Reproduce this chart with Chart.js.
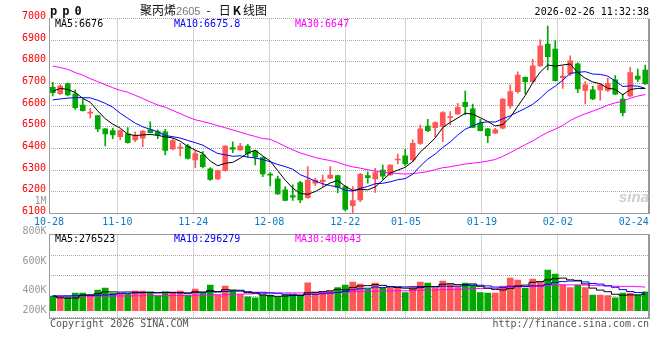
<!DOCTYPE html>
<html>
<head>
<meta charset="utf-8">
<script src="https://cdn.jsdelivr.net/npm/chart.js@4.4.1/dist/chart.umd.min.js"></script>
<style>
body{margin:0;background:#fff}
#wrap{position:relative;width:660px;height:360px;overflow:hidden;background:#fff}
canvas{position:absolute;left:0}
.t{position:absolute;white-space:pre;font:10px "DejaVu Sans Mono",monospace;line-height:12px}
</style>
</head>
<body>
<div id="wrap">
<canvas id="kline" width="660" height="232" style="top:0"></canvas>
<canvas id="vol" width="660" height="100" style="top:226px"></canvas>
</div>
<script>
// date ticks (candle index -> label)
const tickIdx = [0, 9, 19, 29, 39, 47, 57, 67, 77];
const tickLabels = ['10-28', '11-10', '11-24', '12-08', '12-22', '01-05', '01-19', '02-02', '02-24'];

// daily OHLC, 2025-10-28 .. 2026-02-26
const open = [6682,6653,6699,6651,6600,6563,6551,6490,6482,6454,
  6467,6439,6447,6485,6477,6476,6397,6401,6410,6346,
  6370,6305,6259,6297,6403,6393,6411,6388,6357,6279,
  6259,6208,6182,6242,6172,6239,6246,6262,6274,6223,
  6135,6162,6274,6259,6300,6277,6346,6365,6346,6423,
  6503,6496,6503,6542,6559,6613,6582,6516,6490,6470,
  6493,6596,6662,6728,6708,6781,6882,6859,6727,6744,
  6790,6667,6670,6670,6667,6716,6628,6642,6734,6762];
const high = [6705,6694,6701,6670,6628,6585,6553,6491,6494,6485,
  6496,6476,6482,6522,6485,6488,6445,6423,6419,6390,
  6385,6310,6300,6413,6430,6423,6419,6392,6360,6288,
  6272,6223,6231,6248,6316,6262,6277,6316,6277,6228,
  6223,6285,6292,6308,6323,6325,6374,6396,6439,6508,
  6534,6522,6570,6570,6608,6665,6605,6534,6492,6493,
  6630,6693,6754,6730,6811,6901,6965,6898,6780,6827,
  6795,6708,6688,6697,6724,6736,6651,6774,6766,6785];
const low = [6642,6648,6642,6580,6572,6540,6477,6411,6445,6439,
  6424,6431,6408,6470,6445,6370,6393,6365,6350,6311,
  6310,6252,6255,6295,6380,6390,6359,6323,6269,6226,
  6187,6157,6159,6149,6169,6228,6223,6260,6195,6111,
  6100,6154,6239,6197,6257,6275,6328,6320,6340,6418,
  6477,6454,6431,6508,6557,6554,6495,6480,6426,6468,
  6490,6585,6655,6651,6705,6778,6762,6710,6677,6736,
  6657,6605,6625,6623,6663,6648,6550,6638,6708,6695];
const close = [6657,6688,6647,6588,6574,6566,6490,6467,6462,6482,
  6426,6460,6480,6473,6462,6390,6436,6404,6353,6376,
  6315,6257,6297,6411,6396,6411,6377,6359,6282,6276,
  6189,6159,6174,6162,6254,6254,6254,6277,6219,6118,
  6159,6280,6265,6288,6272,6323,6350,6328,6423,6490,
  6482,6519,6565,6545,6590,6593,6497,6482,6459,6485,
  6628,6662,6739,6708,6781,6873,6824,6713,6734,6804,
  6674,6693,6628,6693,6700,6650,6565,6750,6720,6698];

// first points of the MA lines (their windows start before 10-28)
const ma5Head = [6664, 6677, 6672, 6658];
const ma10Head = [6624, 6628, 6632, 6634, 6634, 6633, 6622, 6608, 6590];
const ma30Head = [6780, 6773, 6765, 6750, 6738, 6722, 6708, 6694, 6680, 6668,
  6659, 6645, 6630, 6615, 6600, 6590, 6575, 6560, 6545, 6532,
  6524, 6515, 6505, 6495, 6485, 6475, 6464, 6455, 6445];

// volume
const volume = [244000,244000,228000,294000,294000,261000,344000,377000,289000,278000,
  272000,327000,327000,311000,244000,311000,311000,327000,261000,361000,
  289000,427000,261000,411000,333000,272000,233000,216000,261000,261000,
  228000,261000,261000,261000,466000,289000,311000,327000,383000,427000,
  477000,444000,355000,461000,372000,372000,372000,300000,400000,477000,
  461000,372000,494000,444000,400000,461000,427000,300000,294000,294000,
  411000,544000,511000,372000,527000,472000,677000,611000,427000,383000,
  427000,383000,261000,261000,250000,216000,294000,294000,261000,316000];
const vma5Head = [245000, 215000, 208000, 212000];
const vma10Head = [244000, 246000, 248000, 250000, 252000, 254000, 257000, 262000, 268000];
const vma30Head = [240000,240000,241000,241000,242000,242000,243000,243000,244000,246000,
  248000,249000,250000,251000,251000,252000,253000,254000,256000,258000,
  260000,262000,265000,268000,271000,275000,279000,283000,287000];

const RED = '#ff5656';
const GREEN = '#00a800';
const GRID = '#a8a8a8';
const MONO = '"DejaVu Sans Mono", monospace';

Chart.defaults.font.family = MONO;
Chart.defaults.font.size = 10;

function movingAvg(src, n, head) {
  return src.map((v, i) => {
    if (i < n - 1) return head[i];
    let s = 0;
    for (let k = i - n + 1; k <= i; k++) s += src[k];
    return s / n;
  });
}
const pts = arr => arr.map((v, i) => ({x: i, y: v}));
const candleColor = close.map((c, i) => c >= open[i] ? RED : GREEN);

// frame round the plot
const frame = {
  id: 'frame',
  afterDatasetsDraw(chart, args, opts) {
    const {ctx, chartArea: a} = chart;
    const l = Math.round(a.left) + 0.5, b = Math.round(a.bottom) + 0.5, r = Math.round(a.right);
    ctx.save();
    ctx.strokeStyle = '#999';
    ctx.lineWidth = 1;
    ctx.beginPath();
    ctx.moveTo(l, a.top); ctx.lineTo(l, b);
    ctx.moveTo(l, b); ctx.lineTo(r, b);
    if (opts.top) { const t = Math.round(a.top) + 0.5; ctx.moveTo(l, t); ctx.lineTo(r, t); }
    ctx.stroke();
    ctx.lineWidth = 2;
    ctx.beginPath(); ctx.moveTo(r, a.top); ctx.lineTo(r, b + 0.5); ctx.stroke();
    ctx.restore();
  }
};

function dateAxis(showLabels, height) {
  return {
    type: 'linear', position: 'bottom', min: 0, max: 79, offset: false,
    afterBuildTicks: s => { s.ticks = tickIdx.map(v => ({value: v})); },
    afterFit: s => { s.height = height; },
    ticks: {display: showLabels, autoSkip: false, maxRotation: 0, padding: 3, color: '#0a7cc4',
      callback: (v, i) => tickLabels[i]},
    grid: {offset: false, drawTicks: false, color: c => (c.tick && (c.tick.value === 0 || c.tick.value === 77)) ? 'rgba(0,0,0,0)' : GRID},
    border: {display: false, dash: [1, 1]}
  };
}

function maLine(label, data, color, stepped) {
  return {type: 'line', label, data: pts(data), xAxisID: 'x', borderColor: color, borderWidth: 1,
    pointRadius: 0, tension: 0, stepped: stepped || false, order: 0};
}

const indexAxis = {type: 'linear', min: -0.5, max: 79.5, offset: false, grid: {offset: false}, display: false};

// price panel
new Chart(document.getElementById('kline'), {
  type: 'bar',
  data: {
    datasets: [
      maLine('MA5', movingAvg(close, 5, ma5Head), '#000000'),
      maLine('MA10', movingAvg(close, 10, ma10Head), '#0000ff'),
      maLine('MA30', movingAvg(close, 30, ma30Head), '#ff00ff'),
      {label: 'body', data: open.map((o, i) => ({x: i, y: [o, close[i]]})), xAxisID: 'x',
        backgroundColor: candleColor, barThickness: 5, minBarLength: 1, grouped: false, order: 1},
      {label: 'wick', data: low.map((l, i) => ({x: i, y: [l, high[i]]})), xAxisID: 'x',
        backgroundColor: candleColor, barThickness: 1, grouped: false, order: 2}
    ]
  },
  options: {
    responsive: false, animation: false,
    layout: {padding: {top: 18.45, right: 11, left: 0, bottom: 0}},
    plugins: {legend: {display: false}, tooltip: {enabled: false}, frame: {top: false}},
    scales: {
      x: indexAxis,
      xg: dateAxis(true, 18.7),
      y: {min: 6100, max: 7000,
        afterFit: s => { s.width = 49; },
        ticks: {stepSize: 100, color: '#ff0000', padding: 3, labelOffset: -2, callback: v => String(v)},
        grid: {drawTicks: false, color: GRID},
        border: {display: false, dash: [1, 1]}}
    }
  },
  plugins: [frame]
});

// volume panel
new Chart(document.getElementById('vol'), {
  type: 'bar',
  data: {
    datasets: [
      maLine('MA5', movingAvg(volume, 5, vma5Head), '#000000', 'middle'),
      maLine('MA10', movingAvg(volume, 10, vma10Head), '#0000ff', 'middle'),
      maLine('MA30', movingAvg(volume, 30, vma30Head), '#ff00ff', 'middle'),
      {label: 'vol', data: pts(volume), xAxisID: 'x', backgroundColor: candleColor,
        barThickness: 6, grouped: false, order: 1}
    ]
  },
  options: {
    responsive: false, animation: false,
    layout: {padding: {top: 8.3, right: 11, left: 0, bottom: 0}},
    plugins: {legend: {display: false}, tooltip: {enabled: false}, frame: {top: true}},
    scales: {
      x: indexAxis,
      xg: dateAxis(false, 8.5),
      y: {min: -113000, max: 1272000,
        afterFit: s => { s.width = 49; },
        ticks: {display: false, count: 5},
        grid: {drawTicks: false, color: GRID},
        border: {display: false, dash: [1, 1]}}
    }
  },
  plugins: [frame]
});

// texts
const wrap = document.getElementById('wrap');
function text(s, x, cy, color, extra) {
  const d = document.createElement('div');
  d.className = 't';
  d.textContent = s;
  d.style.color = color;
  d.style.top = (cy - 6) + 'px';
  if (extra && extra.right) d.style.right = (660 - x) + 'px';
  else d.style.left = x + 'px';
  if (extra && extra.css) d.style.cssText += extra.css;
  wrap.appendChild(d);
  return d;
}

text('pp0', 50, 10, '#111', {css: 'font:bold 12px "DejaVu Sans Mono",monospace;letter-spacing:5px'});
const title = text('', 140, 10, '#111', {css: 'font:12px "Noto Sans CJK SC",sans-serif;line-height:14px;top:3px'});
title.innerHTML = '聚丙烯<span style="font:11px \'Liberation Sans\',sans-serif;color:#777">2605</span>' +
  '<span style="margin:0 8px 0 6px">-</span>日<b style="margin:0 2px">K</b>线图';
text('2026-02-26 11:32:38', 649, 11.5, '#000', {right: true});

text('MA5:6676', 55, 23.7, '#000');
text('MA10:6675.8', 174, 23.7, '#0000ff');
text('MA30:6647', 295, 23.7, '#ff00ff');

text('1M', 46.5, 201, '#999', {right: true});
const volTickLabels = ['800K', '600K', '400K', '200K'];
const volTickY = [230.5, 260.5, 290.3, 309.7];
volTickLabels.forEach((s, i) => text(s, 46.5, volTickY[i], '#999', {right: true}));

text('MA5:276523', 55, 238.7, '#000');
text('MA10:296279', 174, 238.7, '#0000ff');
text('MA30:400643', 295, 238.7, '#ff00ff');

text('Copyright 2026 SINA.COM', 50, 323.5, '#555');
text('http://finance.sina.com.cn', 649, 323.5, '#555', {right: true});

text('sina', 619, 195, '#cfcfcf', {css: 'font:italic bold 15px "Liberation Sans",sans-serif;line-height:16px'});
</script>
</body>
</html>
